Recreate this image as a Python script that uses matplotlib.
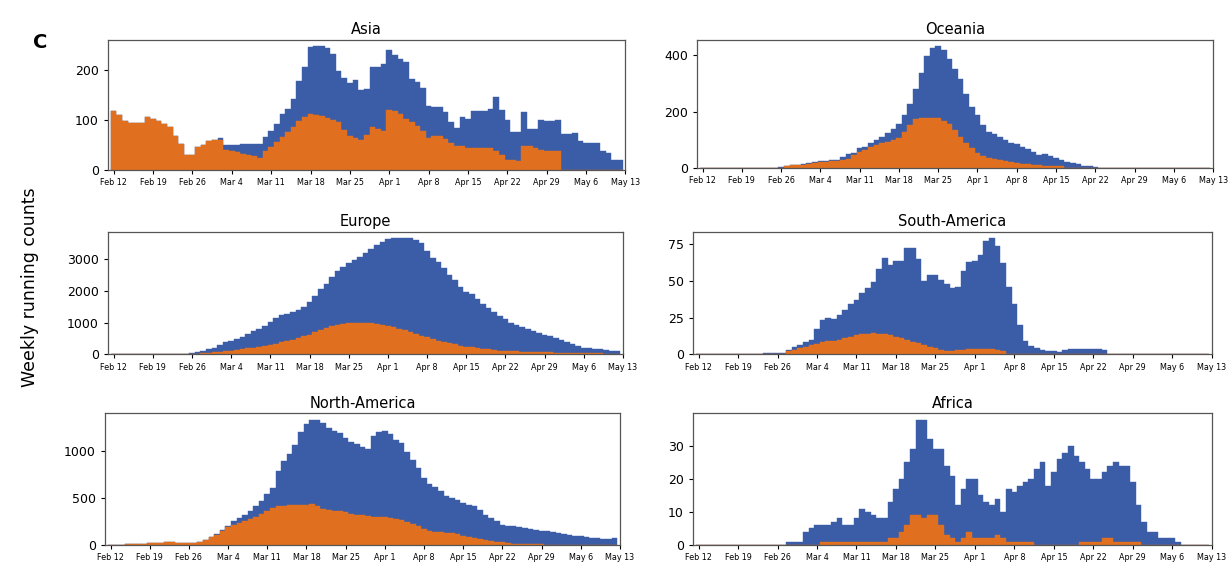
import numpy as np
import matplotlib
matplotlib.use("Agg")
import matplotlib.pyplot as plt

# === Data: daily weekly-running counts, Feb 12 (day 0) .. May 12 (day 90) ===
tick_labels = ["Feb 12", "Feb 19", "Feb 26", "Mar 4", "Mar 11", "Mar 18", "Mar 25",
               "Apr 1", "Apr 8", "Apr 15", "Apr 22", "Apr 29", "May 6", "May 13"]

asia_total = [118, 110, 97, 93, 93, 93, 105,
              102, 97, 92, 86, 68, 52, 29,
              29, 45, 50, 57, 60, 63, 49,
              49, 49, 52, 52, 52, 52, 65,
              78, 91, 111, 122, 142, 179, 206,
              247, 248, 248, 245, 232, 198, 185,
              175, 180, 160, 163, 206, 206, 213,
              240, 230, 223, 216, 182, 176, 165,
              128, 125, 125, 115, 95, 84, 106,
              101, 118, 118, 118, 122, 147, 120,
              100, 75, 75, 115, 81, 81, 99,
              97, 97, 99, 71, 71, 74, 57,
              54, 54, 54, 37, 34, 20, 20]
asia_orange = [118, 110, 97, 93, 93, 93, 105,
               102, 97, 92, 86, 68, 52, 29,
               29, 45, 50, 57, 60, 60, 40,
               38, 35, 32, 30, 27, 24, 37,
               45, 55, 65, 75, 85, 97, 105,
               112, 110, 108, 104, 100, 95, 80,
               68, 64, 60, 70, 85, 82, 78,
               120, 118, 111, 101, 95, 88, 78,
               64, 68, 68, 61, 54, 47, 47,
               44, 44, 44, 44, 44, 38, 30,
               20, 20, 18, 47, 47, 44, 40,
               38, 37, 37, 0, 0, 0, 0,
               0, 0, 0, 0, 0, 0, 0]

oceania_total = [0, 0, 0, 0, 0, 0, 0,
                 0, 0, 1, 1, 1, 2, 2,
                 3, 8, 10, 12, 15, 18, 22,
                 25, 25, 27, 30, 38, 50, 55,
                 70, 75, 88, 99, 110, 125, 140,
                 157, 187, 228, 280, 338, 397, 426,
                 432, 420, 385, 350, 315, 262, 216,
                 187, 152, 128, 122, 111, 99, 88,
                 85, 76, 66, 58, 47, 50, 41,
                 35, 29, 23, 18, 15, 6, 6,
                 4, 1, 1, 0, 0, 0, 0,
                 0, 0, 0, 0, 0, 0, 0,
                 0, 0, 0, 0, 0, 0, 0]
oceania_orange = [0, 0, 0, 0, 0, 0, 0,
                  0, 0, 0, 0, 0, 0, 0,
                  2, 8, 10, 10, 12, 15, 18,
                  22, 22, 24, 25, 28, 32, 45,
                  58, 65, 76, 82, 88, 93, 98,
                  105, 128, 152, 175, 176, 177, 177,
                  176, 168, 157, 134, 111, 88, 70,
                  52, 41, 35, 32, 27, 24, 21,
                  18, 16, 14, 12, 10, 9, 9,
                  8, 6, 0, 0, 0, 0, 0,
                  0, 0, 0, 0, 0, 0, 0,
                  0, 0, 0, 0, 0, 0, 0,
                  0, 0, 0, 0, 0, 0, 0]

europe_total = [0, 0, 0, 0, 0, 0, 0,
                0, 0, 0, 0, 0, 0, 0,
                25, 70, 110, 150, 190, 280, 370,
                420, 480, 540, 630, 720, 800, 900,
                1030, 1140, 1230, 1280, 1320, 1380, 1500,
                1650, 1830, 2050, 2230, 2450, 2640, 2740,
                2870, 2960, 3080, 3210, 3330, 3440, 3550,
                3630, 3660, 3680, 3680, 3680, 3620, 3500,
                3250, 3050, 2900, 2720, 2500, 2330, 2120,
                1960, 1900, 1730, 1600, 1460, 1330, 1200,
                1100, 990, 920, 860, 790, 720, 680,
                610, 560, 510, 450, 370, 320, 260,
                210, 180, 160, 150, 130, 110, 90]
europe_orange = [0, 0, 0, 0, 0, 0, 0,
                 0, 0, 0, 0, 0, 0, 0,
                 10, 20, 35, 50, 65, 80, 95,
                 110, 130, 155, 180, 205, 235, 265,
                 300, 335, 370, 410, 450, 500, 560,
                 620, 690, 760, 830, 880, 920, 950,
                 980, 990, 990, 980, 970, 950, 920,
                 890, 850, 800, 750, 700, 640, 580,
                 530, 480, 430, 390, 340, 310, 270,
                 240, 215, 190, 165, 150, 130, 115,
                 100, 95, 85, 80, 75, 70, 65,
                 60, 55, 50, 45, 40, 38, 35,
                 30, 28, 25, 22, 20, 18, 15]

samerica_total = [0, 0, 0, 0, 0, 0, 0,
                  0, 0, 0, 0, 0, 0.5, 0.6,
                  1, 1, 3, 5, 6, 8, 10,
                  17, 23, 24.5, 23.7, 27, 30, 34,
                  37, 42, 45, 49, 58, 65.5, 60.5,
                  63.4, 63.4, 72.5, 72.5, 64.7, 50, 54,
                  54, 50.7, 47.8, 45, 46, 57, 63,
                  63.4, 67.7, 77.4, 79.5, 73.6, 62, 46,
                  34.5, 19.7, 9, 5.3, 4.2, 3.2, 2.5,
                  2, 1.7, 3, 3.4, 3.4, 3.4, 3.4,
                  3.4, 3.4, 3, 0, 0, 0, 0,
                  0, 0, 0, 0, 0, 0, 0,
                  0, 0, 0, 0, 0, 0, 0]
samerica_orange = [0, 0, 0, 0, 0, 0, 0,
                   0, 0, 0, 0, 0, 0, 0,
                   0, 0, 2, 3, 4, 5, 6,
                   7, 8, 9, 9, 10, 11, 12,
                   13, 14, 14, 14.5, 14, 13.5, 13,
                   12, 11, 9.5, 8.5, 7.5, 6.5, 5,
                   4, 3, 2.5, 2.5, 3, 3, 3.5,
                   3.5, 3.5, 3.5, 3.5, 3, 2, 0,
                   0, 0, 0, 0, 0, 0, 0,
                   0, 0, 0, 0, 0, 0, 0,
                   0, 0, 0, 0, 0, 0, 0,
                   0, 0, 0, 0, 0, 0, 0,
                   0, 0, 0, 0, 0, 0, 0]

namerica_total = [2, 3, 3, 5, 8, 10, 12,
                  15, 18, 22, 25, 25, 22, 20,
                  18, 22, 30, 55, 85, 120, 155,
                  200, 250, 290, 315, 360, 410, 465,
                  540, 610, 790, 895, 965, 1070, 1200,
                  1290, 1335, 1330, 1300, 1250, 1215, 1190,
                  1135, 1100, 1080, 1045, 1020, 1160, 1205,
                  1215, 1180, 1115, 1090, 985, 910, 820,
                  715, 645, 620, 570, 525, 500, 480,
                  445, 430, 410, 375, 320, 285, 250,
                  214, 204, 196, 189, 180, 168, 161,
                  150, 143, 132, 125, 118, 100, 96,
                  89, 82, 75, 71, 64, 61, 75]
namerica_orange = [2, 3, 3, 5, 8, 10, 12,
                   15, 18, 22, 25, 25, 22, 20,
                   18, 20, 25, 50, 80, 110, 150,
                   190, 214, 230, 250, 275, 300, 330,
                   360, 390, 410, 415, 421, 421, 425,
                   430, 439, 410, 385, 370, 360, 357,
                   350, 330, 315, 320, 305, 300, 300,
                   295, 290, 275, 262, 245, 225, 200,
                   170, 148, 140, 135, 130, 125, 112,
                   98, 85, 75, 65, 55, 45, 35,
                   25, 18, 12, 10, 8, 6, 5,
                   4, 3, 3, 2, 2, 2, 2,
                   1, 1, 1, 1, 1, 1, 1]

africa_total = [0, 0, 0, 0, 0, 0, 0,
                0, 0, 0, 0, 0, 0, 0,
                0, 0, 1, 1, 1, 4, 5,
                6, 6, 6, 7, 8, 6, 6,
                8, 11, 10, 9, 8, 8, 13,
                17, 20, 25, 29, 38, 38, 32,
                29, 29, 24, 21, 12, 17, 20,
                20, 15, 13, 12, 14, 10, 17,
                16, 18, 19, 20, 23, 25, 18,
                22, 26, 28, 30, 27, 25, 23,
                20, 20, 22, 24, 25, 24, 24,
                19, 12, 7, 4, 4, 2, 2,
                2, 1, 0, 0, 0, 0, 0]
africa_orange = [0, 0, 0, 0, 0, 0, 0,
                 0, 0, 0, 0, 0, 0, 0,
                 0, 0, 0, 0, 0, 0, 0,
                 0, 1, 1, 1, 1, 1, 1,
                 1, 1, 1, 1, 1, 1, 2,
                 2, 4, 6, 9, 9, 8, 9,
                 9, 6, 3, 2, 1, 2, 4,
                 2, 2, 2, 2, 3, 2, 1,
                 1, 1, 1, 1, 0, 0, 0,
                 0, 0, 0, 0, 0, 1, 1,
                 1, 1, 2, 2, 1, 1, 1,
                 1, 1, 0, 0, 0, 0, 0,
                 0, 0, 0, 0, 0, 0, 0]

BLUE = "#3b5ca6"
ORANGE = "#e0701f"

# (title, total, orange, yticks, axes rect in figure fraction)
panels = [
    ("Asia", asia_total, asia_orange, [0, 100, 200], [0.0877, 0.699, 0.420, 0.230]),
    ("Oceania", oceania_total, oceania_orange, [0, 200, 400], [0.5657, 0.702, 0.419, 0.227]),
    ("Europe", europe_total, europe_orange, [0, 1000, 2000, 3000], [0.0877, 0.372, 0.418, 0.217]),
    ("South-America", samerica_total, samerica_orange, [0, 25, 50, 75], [0.5625, 0.372, 0.421, 0.217]),
    ("North-America", namerica_total, namerica_orange, [0, 500, 1000], [0.0852, 0.034, 0.418, 0.233]),
    ("Africa", africa_total, africa_orange, [0, 10, 20, 30], [0.5625, 0.034, 0.421, 0.233]),
]

fig = plt.figure(figsize=(12.32, 5.64), dpi=100)

for title, total, orange, yticks, rect in panels:
    ax = fig.add_axes(rect)
    days = np.arange(len(total))
    ax.bar(days, total, width=1.0, color=BLUE, edgecolor=BLUE, linewidth=0.3)
    ax.bar(days, orange, width=1.0, color=ORANGE, edgecolor=ORANGE, linewidth=0.3)
    ax.set_xlim(-1, 91)
    ax.set_xticks(np.arange(0, 92, 7))
    ax.set_xticklabels(tick_labels, fontsize=5.8)
    ax.set_yticks(yticks)
    ax.tick_params(axis="y", labelsize=9, length=3)
    ax.tick_params(axis="x", length=3, pad=3)
    ax.set_title(title, fontsize=10.5, pad=4)
    for s in ax.spines.values():
        s.set_color("#555555")
        s.set_linewidth(0.9)

fig.text(0.033, 0.925, "C", fontsize=14, fontweight="bold", ha="center", va="center")
fig.text(0.024, 0.49, "Weekly running counts", fontsize=12.5, rotation=90,
         ha="center", va="center")

fig.savefig("out.png", dpi=100)
